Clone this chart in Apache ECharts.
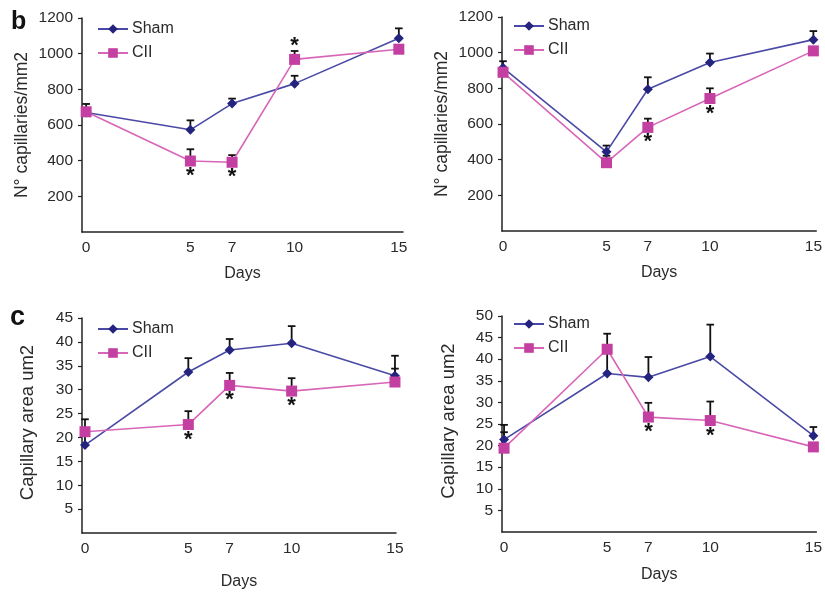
<!DOCTYPE html>
<html>
<head>
<meta charset="utf-8">
<script src="https://cdn.jsdelivr.net/npm/echarts@6/dist/echarts.min.js"></script>
<style>html,body{margin:0;padding:0;background:#fff}#c{width:825px;height:594px}</style>
</head>
<body>
<div id="c"></div>
<script>
// ---- data ----
const days = [0, 5, 7, 10, 15];
const dayLabels = [0, 5, 7, 10, 15];

const shamB1 = [670, 573, 720, 832, 1087];
const shamB1Err = [718, 626, 748, 876, 1142];
const ciiB1 = [674, 398, 391, 968, 1025];
const ciiB1Err = [null, 464, 431, 1015, null];
const sigB1Days = [5, 7, 10];
const sigB1Above = [0, 0, 1];

const shamB2 = [915, 444, 795, 945, 1073];
const shamB2Err = [952, 479, 862, 995, 1121];
const ciiB2 = [890, 383, 581, 743, 1010];
const ciiB2Err = [null, 422, 630, 800, null];
const sigB2Days = [7, 10];
const sigB2Above = [0, 0];

const shamC1 = [18.4, 33.7, 38.3, 39.7, 32.9];
const shamC1Err = [20.9, 36.6, 40.6, 43.3, 37.1];
const ciiC1 = [21.2, 22.7, 30.9, 29.7, 31.6];
const ciiC1Err = [23.8, 25.5, 33.5, 32.4, 34.4];
const sigC1Days = [5, 7, 10];
const sigC1Above = [0, 0, 0];

const shamC2 = [21.4, 36.7, 35.8, 40.6, 22.3];
const shamC2Err = [24.8, 41.5, 40.5, 48.0, 24.3];
const ciiC2 = [19.4, 42.3, 26.6, 25.8, 19.7];
const ciiC2Err = [23.1, 45.9, 29.9, 30.2, null];
const sigC2Days = [7, 10];
const sigC2Above = [0, 0];

const yTitleB = 'N° capillaries/mm2';
const yTitleC = 'Capillary area um2';
const xTitle = 'Days';

// ---- styling ----
const FONT = 'Liberation Sans, Arial, sans-serif';
const SHAM_LINE = '#4a4aa6', SHAM_MARK = '#24247e';
const CII_LINE = '#d866b8', CII_MARK = '#c43fa2';
const TXT = '#2a2a2a';

const panels = [
  {grid:{left:82,top:18,width:321,height:214}, xmin:-0.2, xmax:15.2, ymax:1200, yint:200, ytitle:yTitleB, yfont:17.5, ygap:51, yshift:0, xgap:34,
   sham:shamB1, shamErr:shamB1Err, cii:ciiB1, ciiErr:ciiB1Err, sigDays:sigB1Days, sigAbove:sigB1Above,
   legend:{left:97, top:21}},
  {grid:{left:502,top:17,width:315,height:214}, xmin:-0.05, xmax:15.14, ymax:1200, yint:200, ytitle:yTitleB, yfont:17.5, ygap:51, yshift:0, xgap:34,
   sham:shamB2, shamErr:shamB2Err, cii:ciiB2, ciiErr:ciiB2Err, sigDays:sigB2Days, sigAbove:sigB2Above,
   legend:{left:513, top:18}},
  {grid:{left:82,top:318,width:314,height:215}, xmin:-0.145, xmax:15.05, ymax:45, yint:5, ytitle:yTitleC, yfont:18.5, ygap:45, yshift:6, xgap:41,
   sham:shamC1, shamErr:shamC1Err, cii:ciiC1, ciiErr:ciiC1Err, sigDays:sigC1Days, sigAbove:sigC1Above,
   legend:{left:97, top:321}},
  {grid:{left:502,top:316,width:315,height:216}, xmin:-0.1, xmax:15.145, ymax:50, yint:5, ytitle:yTitleC, yfont:18.5, ygap:44, yshift:6, xgap:35,
   sham:shamC2, shamErr:shamC2Err, cii:ciiC2, ciiErr:ciiC2Err, sigDays:sigC2Days, sigAbove:sigC2Above,
   legend:{left:513, top:316}}
];

function pairs(xs, ys){ return xs.map((x,i)=>[x, ys[i]]); }
function errPairs(xs, ys, tops){
  const out=[]; xs.forEach((x,i)=>{ if(tops[i]!=null) out.push([x, ys[i], tops[i]]); }); return out;
}

function errRender(params, api){
  const x = api.value(0), y = api.value(1), t = api.value(2);
  const p0 = api.coord([x, y]), p1 = api.coord([x, t]);
  const st = {stroke:'#111', lineWidth:1.8};
  return {type:'group', children:[
    {type:'line', shape:{x1:p0[0], y1:p0[1], x2:p1[0], y2:p1[1]}, style:st},
    {type:'line', shape:{x1:p1[0]-3.8, y1:p1[1], x2:p1[0]+3.8, y2:p1[1]}, style:st}
  ]};
}

function starRender(params, api){
  const x = api.value(0), y = api.value(1), above = api.value(2), top = api.value(3);
  const p = above ? api.coord([x, top]) : api.coord([x, y]);
  const dy = above ? 6 : 4;
  return {type:'text', x:p[0], y:p[1]+dy, style:{text:'*', fontSize:22, fontWeight:'bold', fontFamily:FONT,
    fill:'#111', textAlign:'center', textVerticalAlign: above ? 'bottom' : 'top'}};
}

const option = {
  animation:false,
  backgroundColor:'#fff',
  grid:[], xAxis:[], yAxis:[], series:[], legend:[],
  graphic:[
    {type:'text', left:11, top:10, style:{text:'b', font:'bold 25px ' + FONT, fill:'#111'}},
    {type:'text', left:10, top:304, style:{text:'c', font:'bold 27px ' + FONT, fill:'#111'}}
  ]
};

panels.forEach((p, i) => {
  option.grid.push(Object.assign({containLabel:false}, p.grid));
  option.xAxis.push({
    type:'value', gridIndex:i, min:p.xmin, max:p.xmax,
    name:xTitle, nameLocation:'middle', nameGap:p.xgap,
    nameTextStyle:{fontSize:16, color:TXT, fontFamily:FONT},
    axisLine:{onZero:false, lineStyle:{color:'#222', width:1.5}},
    axisTick:{show:false},
    splitLine:{show:false},
    axisLabel:{customValues:dayLabels, fontSize:15.5, color:TXT, fontFamily:FONT, margin:8}
  });
  option.yAxis.push({
    type:'value', gridIndex:i, min:0, max:p.ymax, interval:p.yint,
    name:p.ytitle, nameLocation:'middle', nameGap:p.ygap, nameRotate:90,
    nameTextStyle:{fontSize:p.yfont, color:TXT, fontFamily:FONT, padding:[0,0,0,p.yshift]},
    axisLine:{show:true, onZero:false, lineStyle:{color:'#222', width:1.5}},
    axisTick:{show:true, length:4, lineStyle:{color:'#222', width:1.2}},
    splitLine:{show:false},
    axisLabel:{showMinLabel:false, fontSize:15.5, color:TXT, fontFamily:FONT, margin:9,
      formatter:(v)=>String(v)}
  });
  option.legend.push({
    left:p.legend.left, top:p.legend.top, orient:'vertical', padding:0, itemWidth:30, itemHeight:12, itemGap:8,
    data:['Sham','CII'], selectedMode:false,
    textStyle:{fontSize:16, color:TXT, fontFamily:FONT, lineHeight:16, padding:[0,0,0,-1]}
  });
  option.series.push({
    type:'custom', name:'errSham'+i, xAxisIndex:i, yAxisIndex:i, renderItem:errRender, z:1,
    data:errPairs(days, p.sham, p.shamErr), silent:true
  });
  option.series.push({
    type:'custom', name:'errCII'+i, xAxisIndex:i, yAxisIndex:i, renderItem:errRender, z:1,
    data:errPairs(days, p.cii, p.ciiErr), silent:true
  });
  option.series.push({
    type:'line', name:'Sham', xAxisIndex:i, yAxisIndex:i, data:pairs(days, p.sham), z:3,
    symbol:'diamond', symbolSize:10, showAllSymbol:true,
    lineStyle:{color:SHAM_LINE, width:1.6}, itemStyle:{color:SHAM_MARK, borderWidth:0}
  });
  option.series.push({
    type:'line', name:'CII', xAxisIndex:i, yAxisIndex:i, data:pairs(days, p.cii), z:4,
    symbol:'rect', symbolSize:11, showAllSymbol:true,
    lineStyle:{color:CII_LINE, width:1.6}, itemStyle:{color:CII_MARK, borderWidth:0}
  });
  const stars = p.sigDays.map((d, k) => {
    const idx = days.indexOf(d);
    const top = p.ciiErr[idx] != null ? p.ciiErr[idx] : p.cii[idx];
    return [d, p.cii[idx], p.sigAbove[k], top];
  });
  option.series.push({
    type:'custom', name:'sig'+i, xAxisIndex:i, yAxisIndex:i, renderItem:starRender, z:5,
    data:stars, silent:true
  });
});

const chart = echarts.init(document.getElementById('c'), null, {renderer:'canvas'});
chart.setOption(option);
</script>
</body>
</html>
